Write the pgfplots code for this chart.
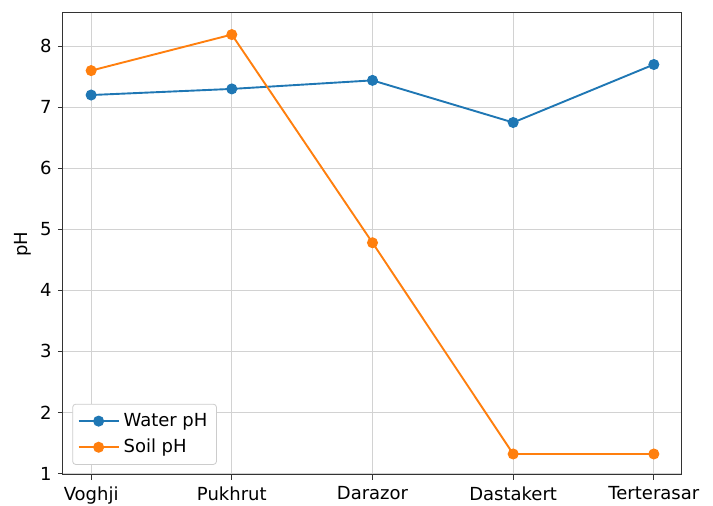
\documentclass[border=0pt]{standalone}
\usepackage{fontspec}
\setmainfont{DejaVu Sans}
\usepackage{pgfplots}
\pgfplotsset{compat=1.18}
\definecolor{mblue}{HTML}{1F77B4}
\definecolor{morange}{HTML}{FF7F0E}
\begin{document}
\fontsize{9pt}{11pt}\selectfont
\begin{tikzpicture}
\useasboundingbox (-31.5pt,-15.5pt) rectangle (325pt,237.5pt);
\begin{axis}[
  at={(0pt,0pt)}, anchor=south west,
  scale only axis,
  width=309.5pt, height=231pt,
  xmin=-0.2, xmax=4.2,
  ymin=0.976, ymax=8.544,
  xtick={0,1,2,3,4},
  xticklabels={Voghji,Pukhrut,Darazor,Dastakert,Terterasar},
  ytick={1,2,3,4,5,6,7,8},
  /pgf/number format/assume math mode=true,
  ticklabel style={font=\fontsize{9pt}{11pt}\selectfont},
  ylabel={pH},
  ylabel style={font=\fontsize{9pt}{11pt}\selectfont, at={(axis description cs:-0.065,0.5)}, anchor=center},
  grid=major,
  grid style={gray!35, line width=0.5pt},
  axis line style={black!80, line width=0.5pt},
  tick style={black!80, line width=0.5pt},
  tick align=outside,
  major tick length=2.5pt,
  xtick pos=bottom, ytick pos=left,
  legend style={at={(0.015,0.022)}, anchor=south west, draw=black!20, rounded corners=1.5pt, font=\fontsize{9pt}{11pt}\selectfont, row sep=1pt, inner sep=2.5pt},
  legend cell align=left,
  legend image code/.code={
    \draw[#1] (0pt,0pt) -- (20pt,0pt);
    \draw[#1, mark repeat=1] plot coordinates {(10pt,0pt)};
  },
]
\addplot[color=mblue, line width=0.95pt, mark=*, mark size=2.5pt, mark options={draw=mblue, fill=mblue, line width=0.5pt}]
  coordinates {(0,7.2) (1,7.3) (2,7.44) (3,6.75) (4,7.7)};
\addlegendentry{Water pH}
\addplot[color=morange, line width=0.95pt, mark=*, mark size=2.5pt, mark options={draw=morange, fill=morange, line width=0.5pt}]
  coordinates {(0,7.6) (1,8.19) (2,4.78) (3,1.32) (4,1.32)};
\addlegendentry{Soil pH}
\end{axis}
\end{tikzpicture}
\end{document}
